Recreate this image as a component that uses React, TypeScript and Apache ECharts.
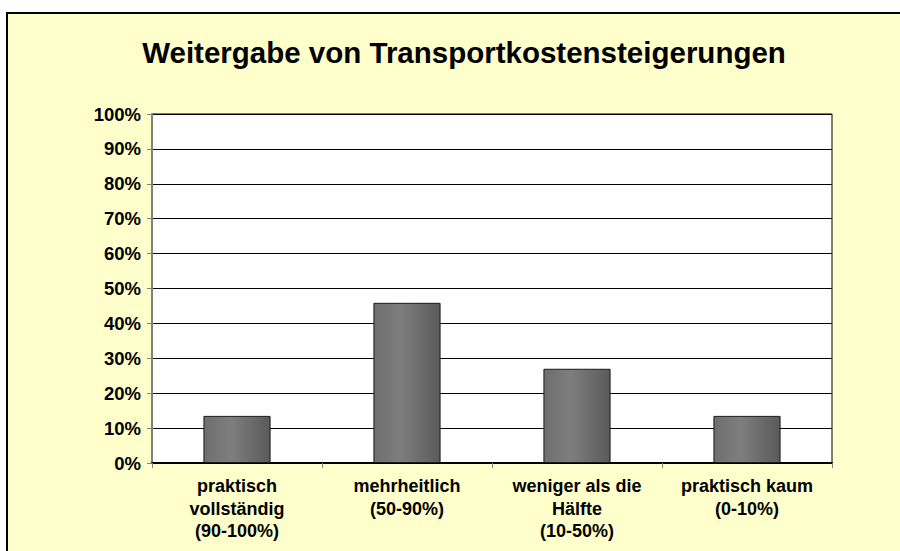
import React, { useEffect, useRef } from "react";
import * as echarts from "echarts";

const titleText = "Weitergabe von Transportkostensteigerungen";
const categories = [
  "praktisch\nvollständig\n(90-100%)",
  "mehrheitlich\n(50-90%)",
  "weniger als die\nHälfte\n(10-50%)",
  "praktisch kaum\n(0-10%)",
];
const shares = [13.5, 45.9, 27.0, 13.5];
const yMin = 0;
const yMax = 100;
const yStep = 10;

export default function App() {
  const ref = useRef<HTMLDivElement>(null);
  useEffect(() => {
    if (!ref.current) return;
    const chart = echarts.init(ref.current, null, { renderer: "svg" });
    const font = "'Liberation Sans', Arial, sans-serif";
    chart.setOption({
      animation: false,
      backgroundColor: "#ffffff",
      graphic: [
        {
          type: "rect",
          z: -10,
          silent: true,
          shape: { x: 7, y: 13, width: 910, height: 560 },
          style: { fill: "#FFFFCC", stroke: "#000000", lineWidth: 2 },
        },
      ],
      title: {
        text: titleText,
        left: 459,
        top: 32,
        textAlign: "center",
        textStyle: { fontFamily: font, fontWeight: "bold", fontSize: 29.5, color: "#000" },
      },
      grid: {
        left: 152,
        top: 114,
        right: 68,
        bottom: 88,
        show: true,
        backgroundColor: "#ffffff",
        borderColor: "#000000",
        borderWidth: 1,
        containLabel: false,
      },
      xAxis: {
        type: "category",
        data: categories,
        axisLine: { show: true, lineStyle: { color: "#000", width: 2 } },
        axisTick: { show: true, length: 5, lineStyle: { color: "#808080", width: 1 } },
        axisLabel: {
          interval: 0,
          margin: 12,
          fontFamily: font,
          fontWeight: "bold",
          fontSize: 18,
          lineHeight: 22.5,
          color: "#000",
          align: "center",
        },
      },
      yAxis: {
        type: "value",
        min: yMin,
        max: yMax,
        interval: yStep,
        axisLine: { show: true, lineStyle: { color: "#808080", width: 2 } },
        axisTick: { show: true, length: 5, lineStyle: { color: "#808080", width: 1 } },
        splitLine: { show: true, lineStyle: { color: "#000", width: 1 } },
        axisLabel: {
          formatter: "{value}%",
          margin: 11,
          fontFamily: font,
          fontWeight: "bold",
          fontSize: 18.5,
          color: "#000",
        },
      },
      series: [
        {
          type: "bar",
          data: shares,
          barWidth: "39.5%",
          itemStyle: {
            color: new echarts.graphic.LinearGradient(0, 0, 1, 0, [
              { offset: 0, color: "#6e6e6e" },
              { offset: 0.4, color: "#7e7e7e" },
              { offset: 1, color: "#5a5a5a" },
            ]),
            borderColor: "#1a1a1a",
            borderWidth: 1,
          },
        },
      ],
    });
    return () => chart.dispose();
  }, []);
  return (
    <div
      ref={ref}
      style={{ position: "fixed", left: 0, top: 0, width: 900, height: 551 }}
    />
  );
}
